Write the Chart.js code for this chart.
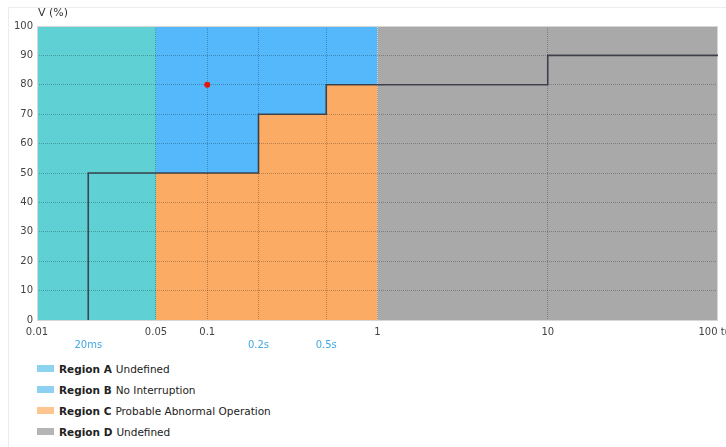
<!DOCTYPE html>
<html>
<head>
<meta charset="utf-8">
<script src="https://cdn.jsdelivr.net/npm/chart.js@4/dist/chart.umd.min.js"></script>
<style>
  html, body { margin: 0; padding: 0; background: #fff; }
  body { position: relative; width: 726px; height: 447px; overflow: hidden; font-family: 'DejaVu Sans', sans-serif; }
  .frame { position: absolute; left: 8px; top: 7px; right: 0; bottom: 0; border-left: 1px solid #ececec; border-top: 1px solid #ececec; }
  #wrap { position: absolute; left: 0; top: 0; width: 726px; height: 355px; }
  .ytitle { position: absolute; left: 38px; top: 6px; font-size: 11px; line-height: 14px; color: #333; }
  #legend { position: absolute; left: 37px; top: 358px; font-size: 10.5px; color: #222; }
  .item { display: flex; align-items: center; height: 21px; white-space: nowrap; }
  .sw { width: 17px; height: 7px; margin-right: 5px; }
  .item b { margin-right: 4px; }
</style>
</head>
<body>
<div class="frame"></div>
<div id="wrap"><canvas id="chart" width="726" height="355"></canvas></div>
<div class="ytitle">V (%)</div>
<div id="legend"></div>

<script>
// axis range
const tMin = 0.01;
const tMax = 100;

// main x ticks (seconds) and their labels
const tickValues = [0.01, 0.05, 0.1, 0.2, 0.5, 1, 10, 100];
const tickLabels = ['0.01', '0.05', '0.1', '', '', '1', '10', '100 t(s)'];

// second row of x labels (durations)
const durValues = [0.02, 0.2, 0.5];
const durLabels = ['20ms', '0.2s', '0.5s'];

// y ticks (%)
const vTicks = [0, 10, 20, 30, 40, 50, 60, 70, 80, 90, 100];

// regions (time, voltage)
const regionAT = [0.01, 0.05];
const regionAV = [100, 100];
const regionBT = [0.05, 1];
const regionBV = [100, 100];
const regionCT = [0.05, 0.2, 0.5, 1];
const regionCV = [50, 70, 80, 80];
const regionDT = [1, 100];
const regionDV = [100, 100];

// limit curve (stepped, horizontal first)
const curveT = [0.02, 0.02, 0.2, 0.5, 10, 100];
const curveV = [0, 50, 70, 80, 90, 90];

// measured event
const eventT = [0.1];
const eventV = [80];

// legend
const legendNames = ['Region A', 'Region B', 'Region C', 'Region D'];
const legendDesc  = ['Undefined', 'No Interruption', 'Probable Abnormal Operation', 'Undefined'];
const legendColors = ['#8dd3ef', '#8dd0f2', '#fdc68e', '#b5b5b5'];

const gridColor = 'rgba(0,0,0,0.26)';

function pts(xs, ys) {
  return xs.map((x, i) => ({ x: x, y: ys[i] }));
}

function region(label, xs, ys, color, order, stepped) {
  return {
    label: label,
    data: pts(xs, ys),
    borderWidth: 0,
    borderColor: 'transparent',
    backgroundColor: color,
    fill: 'origin',
    pointRadius: 0,
    stepped: stepped || false,
    order: order,
  };
}

// light frame round the plot area
const framePlugin = {
  id: 'frame',
  beforeDatasetsDraw(chart) {
    const a = chart.chartArea, ctx = chart.ctx;
    ctx.save();
    ctx.strokeStyle = '#d6d6d6';
    ctx.lineWidth = 1;
    ctx.strokeRect(a.left + 0.5, a.top + 0.5, a.right - a.left - 1, a.bottom - a.top);
    ctx.restore();
  }
};

new Chart(document.getElementById('chart'), {
  type: 'line',
  data: {
    datasets: [
      {
        label: 'Event',
        type: 'scatter',
        data: pts(eventT, eventV),
        backgroundColor: '#e5140c',
        borderWidth: 0,
        pointRadius: 3,
        order: 0,
      },
      {
        label: 'Limit',
        data: pts(curveT, curveV),
        borderColor: 'rgba(52,55,66,0.9)',
        borderWidth: 1.6,
        pointRadius: 0,
        fill: false,
        stepped: 'before',
        order: 1,
      },
      region('Region C', regionCT, regionCV, '#fbab63', 2, 'before'),
      region('Region B', regionBT, regionBV, '#55b8fb', 3),
      region('Region A', regionAT, regionAV, '#5fd0d3', 4),
      region('Region D', regionDT, regionDV, '#a9a9a9', 5),
    ],
  },
  options: {
    responsive: false,
    animation: false,
    layout: { padding: { top: 26, right: 8, left: 0, bottom: 0 } },
    plugins: {
      legend: { display: false },
      tooltip: { enabled: false },
      filler: { drawTime: 'beforeDraw' },
    },
    scales: {
      x: {
        type: 'logarithmic',
        position: 'bottom',
        weight: 0,
        min: tMin,
        max: tMax,
        afterBuildTicks: s => { s.ticks = tickValues.map(v => ({ value: v })); },
        afterFit: s => { s.height = 18; s.paddingLeft = 0; s.paddingRight = 0; },
        ticks: {
          autoSkip: false,
          maxRotation: 0,
          padding: 6,
          color: '#444',
          font: { family: 'DejaVu Sans', size: 10 },
          callback: (v, i) => tickLabels[i],
        },
        grid: {
          drawTicks: false,
          lineWidth: 1,
          color: c => (c.tick && (c.tick.value === tMin || c.tick.value === tMax)) ? 'transparent' : gridColor,
        },
        border: { display: false, dash: [1, 1] },
      },
      x2: {
        type: 'logarithmic',
        position: 'bottom',
        weight: 1,
        min: tMin,
        max: tMax,
        afterBuildTicks: s => { s.ticks = durValues.map(v => ({ value: v })); },
        afterFit: s => { s.height = 17; s.paddingLeft = 0; s.paddingRight = 0; },
        ticks: {
          autoSkip: false,
          maxRotation: 0,
          padding: 1,
          color: '#41a8e4',
          font: { family: 'DejaVu Sans', size: 10 },
          callback: (v, i) => durLabels[i],
        },
        grid: { display: false, drawTicks: false },
        border: { display: false },
      },
      y: {
        min: 0,
        max: 100,
        afterBuildTicks: s => { s.ticks = vTicks.map(v => ({ value: v })); },
        afterFit: s => { s.width = 37; },
        ticks: {
          padding: 4,
          color: '#444',
          font: { family: 'DejaVu Sans', size: 10 },
        },
        grid: {
          drawTicks: false,
          lineWidth: 1,
          color: c => (c.tick && (c.tick.value === 0 || c.tick.value === 100)) ? 'transparent' : gridColor,
        },
        border: { display: false, dash: [1, 1] },
      },
    },
  },
  plugins: [framePlugin],
});

// HTML legend
document.getElementById('legend').innerHTML = legendNames.map((n, i) => `
  <div class="item"><span class="sw" style="background:${legendColors[i]}"></span><b>${n}</b>${legendDesc[i]}</div>`).join('');
</script>
</body>
</html>
